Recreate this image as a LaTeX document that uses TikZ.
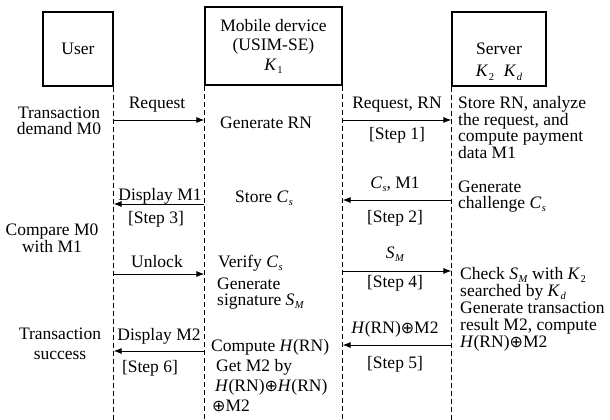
\documentclass[tikz,border=0pt]{standalone}
\usepackage{fontspec}
\setmainfont{Liberation Serif}
\newfontfamily\symfnt{DejaVu Sans}
\usetikzlibrary{arrows.meta}
\newcommand\vsb[2]{\textit{#1}\kern0.5pt\raisebox{-3pt}{\fontsize{10.5}{10.5}\selectfont #2}}
\newcommand\xor{{\symfnt\fontsize{16}{16}\selectfont ⊕}}
\begin{document}
\begin{tikzpicture}[x=1pt,y=-1pt,
  every node/.style={inner sep=0pt},
  fnt/.style={font=\fontsize{17.5}{#1}\selectfont},
  fnt/.default=16,
  actor/.style={draw, line width=1.1pt, fnt},
  life/.style={dash pattern=on 5pt off 3pt, line width=0.9pt},
  msg/.style={line width=1pt, -{Latex[length=8pt,width=6pt]}},
  lt/.style={fnt=#1, align=left, anchor=base west},
  lt/.default=16,
  ct/.style={fnt=#1, align=center, anchor=base},
  ct/.default=16,
]
\useasboundingbox (0,0) rectangle (610,420);
\fill[white] (0,0) rectangle (610,420);

% actors
\node[actor, minimum width=70pt, minimum height=74pt] (user) at (78,49) {User};
\node[actor, minimum width=137pt, minimum height=78pt, align=center, fnt=19.5] (mobile) at (273.5,46)
  {Mobile dervice\\(USIM-SE)\\\vsb{K}{1}};
\node[actor, minimum width=94pt, minimum height=74pt] (server) at (499,49) {};
% multi-line nodes: base anchor = baseline of the last line
\node[ct=22] (servertxt) at (499,77) {Server\\\vsb{K}{2}\;\;\vsb{K}{\textit{d}}};

% lifelines
\coordinate (bottom) at (0,420);
\draw[life] (user.south east) -- (user.south east |- bottom);
\draw[life] (mobile.south west) -- (mobile.south west |- bottom);
\draw[life] (mobile.south east) -- (mobile.south east |- bottom);
\draw[life] (server.south west) -- (server.south west |- bottom);

% messages
\draw[msg] (user.south east |- 0,120) -- (mobile.south west |- 0,120);
\draw[msg] (mobile.south east |- 0,120) -- (server.south west |- 0,120);
\draw[msg] (server.south west |- 0,200) -- (mobile.south east |- 0,200);
\draw[msg] (mobile.south west |- 0,204) -- (user.south east |- 0,204);
\draw[msg] (user.south east |- 0,274) -- (mobile.south west |- 0,274);
\draw[msg] (mobile.south east |- 0,271) -- (server.south west |- 0,271);
\draw[msg] (server.south west |- 0,345) -- (mobile.south east |- 0,345);
\draw[msg] (mobile.south west |- 0,351) -- (user.south east |- 0,351);

% message labels
\node[ct] (l1) at (157,108) {Request};
\node[ct] (l2) at (397,108) {Request, RN};
\node[ct] (s1) at (397,139) {[Step 1]};
\node[ct] (l3) at (395,188) {\vsb{C}{\textit{s}}, M1};
\node[ct] (s2) at (395,222) {[Step 2]};
\node[ct] (l4) at (160,200) {Display M1};
\node[ct] (s3) at (156,223) {[Step 3]};
\node[ct] (l5) at (157,267) {Unlock};
\node[ct] (l6) at (395,258) {\vsb{S}{\textit{M}}};
\node[ct] (s4) at (395,287) {[Step 4]};
\node[ct] (l7) at (395,333) {\textit{H}(RN)\xor M2};
\node[ct] (s5) at (395,368) {[Step 5]};
\node[ct] (l8) at (159,340) {Display M2};
\node[ct] (s6) at (150,372) {[Step 6]};

% user side
\node[ct=16] (u1) at (59,134) {Transaction\\demand M0};
\node[ct=15] (u2) at (52,252) {Compare M0\\with M1};
\node[ct=20] (u3) at (60,359) {Transaction\\success};

% mobile side
\node[lt] (m1) at (220,128) {Generate RN};
\node[lt] (m2) at (235,202) {Store \vsb{C}{\textit{s}}};
\node[lt] (m3) at (218,267) {Verify \vsb{C}{\textit{s}}};
\node[lt=16] (m4) at (217,305) {Generate\\signature \vsb{S}{\textit{M}}};
\node[lt=20] (m5) at (211,411) {Compute \textit{H}(RN)\\\hspace{5pt}Get M2 by\\\hspace{4pt}\textit{H}(RN)\xor\textit{H}(RN)\\\hspace{1pt}\xor M2};

% server side
\node[lt=15.3] (v1) at (458,158) {Store RN, analyze\\the request, and\\compute payment\\data M1};
\node[lt=16] (v2) at (458,208) {Generate\\challenge \vsb{C}{\textit{s}}};
\node[lt=17] (v3) at (460,347) {Check \vsb{S}{\textit{M}} with \vsb{K}{2}\\searched by \vsb{K}{\textit{d}}\\Generate transaction\\result M2, compute\\\textit{H}(RN)\xor M2};
\end{tikzpicture}
\end{document}
